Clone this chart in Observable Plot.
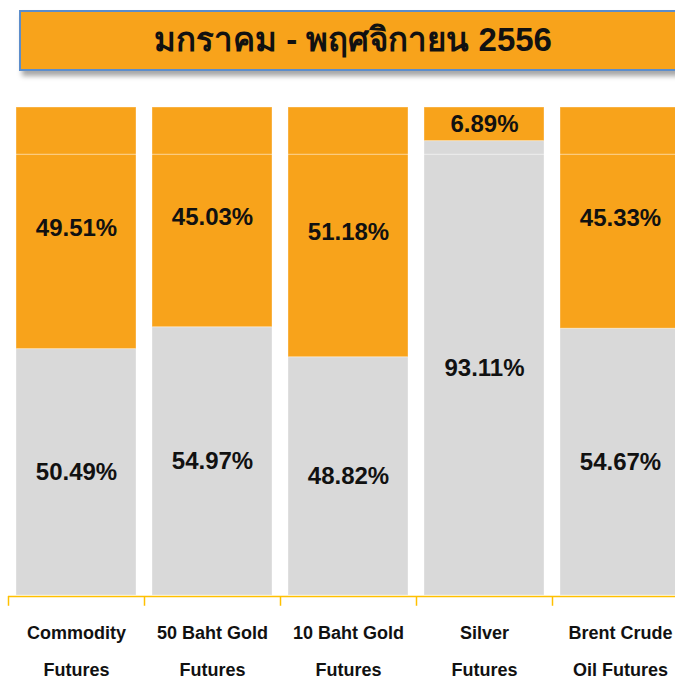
<!DOCTYPE html>
<html>
<head>
<meta charset="utf-8">
<script src="https://cdn.jsdelivr.net/npm/d3@7"></script>
<script src="https://cdn.jsdelivr.net/npm/@observablehq/plot@0.6"></script>
<style>
  html, body { margin: 0; padding: 0; background: #fff; overflow: hidden; }
  body { width: 675px; height: 680px; font-family: "Liberation Sans", Arial, sans-serif; }
  #header { position: relative; width: 675px; height: 95px; overflow: hidden; }
  #titlebox {
    position: absolute; left: 19px; top: 10px; width: 680px; height: 57px;
    background: #F8A31B; border: 2px solid #5C8DCB;
    box-shadow: 3px 5px 5px rgba(0,0,0,0.35);
  }
  #title {
    position: absolute; left: 0; top: 10px; width: 706px; text-align: center;
    font-weight: bold; font-size: 33px; line-height: 60px; color: #111;
  }
  #chart { display: block; }
</style>
</head>
<body>
<div id="header">
  <div id="titlebox"></div>
  <div id="title">มกราคม - พฤศจิกายน 2556</div>
</div>
<div id="chart"></div>
<script>
const categories = ["Commodity Futures", "50 Baht Gold Futures", "10 Baht Gold Futures", "Silver Futures", "Brent Crude Oil Futures"];
const xLabels = ["Commodity\nFutures", "50 Baht Gold\nFutures", "10 Baht Gold\nFutures", "Silver\nFutures", "Brent Crude\nOil Futures"];
const series = ["share1", "share2"];
const share1Values = [50.49, 54.97, 48.82, 93.11, 54.67];
const share2Values = [49.51, 45.03, 51.18, 6.89, 45.33];

const GREY = "#D9D9D9";
const ORANGE = "#F8A31B";
const AXIS = "#FFC000";

const data = [];
categories.forEach((c, i) => data.push({cat: c, series: "share1", value: share1Values[i]}));
categories.forEach((c, i) => data.push({cat: c, series: "share2", value: share2Values[i]}));

const labelOf = new Map(categories.map((c, i) => [c, xLabels[i]]));

const chart = Plot.plot({
  width: 675,
  height: 585,
  marginTop: 12,
  marginBottom: 85,
  marginLeft: 8,
  marginRight: 0,
  style: {fontFamily: "'Liberation Sans', Arial, sans-serif", background: "white"},
  x: {domain: categories, range: [8, 688], paddingInner: 0.118, paddingOuter: 0.059, axis: null},
  y: {domain: [0, 100], axis: null},
  color: {type: "categorical", domain: series, range: [GREY, ORANGE]},
  marks: [
    Plot.barY(data, Plot.stackY({x: "cat", y: "value", z: "series", fill: "series", stroke: "#ffffff", strokeOpacity: 0.35, strokeWidth: 1})),
    Plot.ruleY([90], {stroke: "#ffffff", strokeOpacity: 0.55, strokeWidth: 1, dy: -2}),
    Plot.text(data, Plot.stackY({x: "cat", y: "value", z: "series", text: d => d.value.toFixed(2) + "%", fontSize: 24, fontWeight: "bold", fill: "#111"})),
    Plot.ruleY([0], {stroke: AXIS, strokeWidth: 1.5, dy: 1}),
    Plot.ruleX(categories, {x: d => d, dx: -68, y1: 0, y2: -2, stroke: AXIS, strokeWidth: 1.5, dy: 1}),
    Plot.text(categories, {x: d => d, text: d => labelOf.get(d), frameAnchor: "bottom", dy: 80, lineHeight: 2.05, fontSize: 18, fontWeight: "bold", fill: "#111"})
  ]
});
document.getElementById("chart").appendChild(chart);
</script>
</body>
</html>
